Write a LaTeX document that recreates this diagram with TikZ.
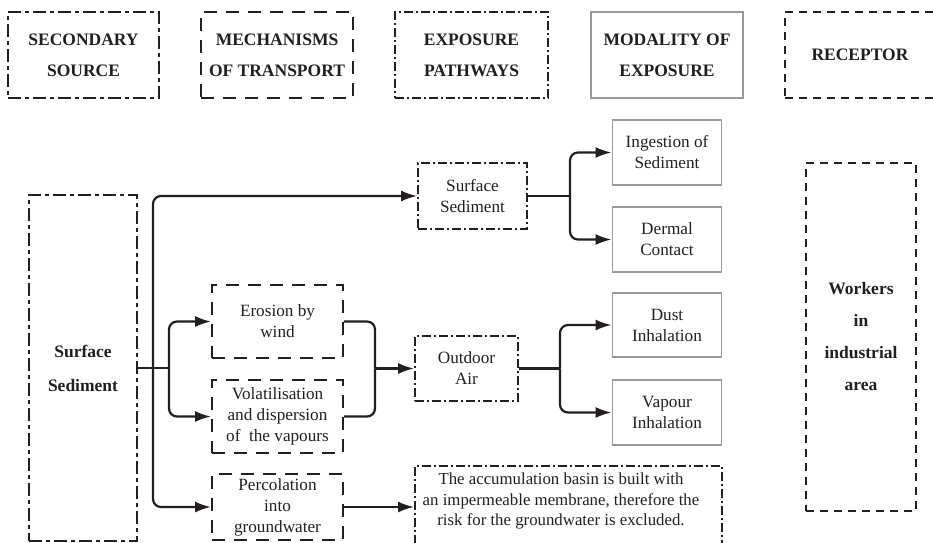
\documentclass[tikz,border=0pt]{standalone}
\usepackage{fontspec}
\setmainfont{Liberation Serif}
\usetikzlibrary{arrows.meta}
\definecolor{ink}{HTML}{231F20}
\definecolor{boxgray}{HTML}{9A9A9A}
\begin{document}
\begin{tikzpicture}[x=1pt,y=-1pt,
  every node/.style={text=ink, align=center, inner sep=0pt},
  txt/.style={font=\fontsize{17.2}{21}\selectfont},
  btxt/.style={font=\fontsize{17.5}{31}\selectfont\bfseries},
  srcbox/.style={draw=ink, line width=1.9pt, dash pattern=on 13pt off 4pt on 4pt off 4pt},
  trbox/.style={draw=ink, line width=1.9pt, dash pattern=on 13pt off 9pt},
  pwbox/.style={draw=ink, line width=1.9pt, dash pattern=on 9pt off 3pt on 2pt off 3pt},
  modbox/.style={draw=boxgray, line width=1.9pt},
  recbox/.style={draw=ink, line width=1.9pt, dash pattern=on 8pt off 6pt},
  conn/.style={draw=ink, line width=2.2pt, rounded corners=8pt},
  arr/.style={conn, -{Latex[length=16pt,width=11pt]}},
]
\useasboundingbox (0,0) rectangle (933,542);

% header boxes
\node[srcbox, btxt, minimum width=151pt, minimum height=86pt] (h1) at (83.5,55) {SECONDARY\\SOURCE};
\node[trbox, btxt, minimum width=152pt, minimum height=86pt] (h2) at (277,55) {MECHANISMS\\OF TRANSPORT};
\node[pwbox, btxt, minimum width=153pt, minimum height=86pt] (h3) at (471.5,55) {EXPOSURE\\PATHWAYS};
\node[modbox, btxt, minimum width=152pt, minimum height=86pt] (h4) at (667,55) {MODALITY OF\\EXPOSURE};
\node[recbox, btxt, minimum width=150pt, minimum height=86pt] (h5) at (860,55) {RECEPTOR};

% secondary source
\node[srcbox, btxt, font=\fontsize{17.5}{34}\selectfont\bfseries, minimum width=108pt, minimum height=346pt] (ss) at (83,368) {Surface\\Sediment};

% transport
\node[trbox, txt, minimum width=131pt, minimum height=73pt] (ero) at (277.5,321.5) {Erosion by\\wind};
\node[trbox, txt, minimum width=131pt, minimum height=73pt] (vol) at (277.5,416.5) {Volatilisation\\and dispersion\\of\ \ the vapours};
\node[trbox, txt, minimum width=131pt, minimum height=66pt] (perc) at (277.5,507) {Percolation\\into\\groundwater};

% pathways
\node[pwbox, txt, minimum width=109pt, minimum height=66pt] (ps) at (472.5,196) {Surface\\Sediment};
\node[pwbox, txt, minimum width=103pt, minimum height=65pt] (oa) at (466.5,368.5) {Outdoor\\Air};
\node[pwbox, minimum width=307pt, minimum height=82pt] (basin) at (568.5,507) {};
\node[txt, font=\fontsize{16.8}{20.5}\selectfont] (btext) at (561,501) {The accumulation basin is built with\\an impermeable membrane, therefore the\\risk for the groundwater is excluded.};

% modality
\node[modbox, txt, minimum width=109pt, minimum height=65pt] (ing) at (667,152.5) {Ingestion of\\Sediment};
\node[modbox, txt, minimum width=109pt, minimum height=65pt] (der) at (667,239.5) {Dermal\\Contact};
\node[modbox, txt, minimum width=109pt, minimum height=64pt] (dust) at (667,325) {Dust\\Inhalation};
\node[modbox, txt, minimum width=109pt, minimum height=65pt] (vap) at (667,412.5) {Vapour\\Inhalation};

% receptor
\node[recbox, btxt, font=\fontsize{17.5}{32}\selectfont\bfseries, minimum width=110pt, minimum height=348pt] (wk) at (861,337) {Workers\\in\\industrial\\area};

% junctions
\coordinate (j1) at (153,368);
\coordinate (j2) at (169,368);
\coordinate (j3) at (375,368.5);
\coordinate (j4) at (570,196);
\coordinate (j5) at (560,368.5);

% connectors
\draw[conn] (ss.east) -- (j2);
\draw[arr] (j1) |- (ps.west);
\draw[arr] (j1) |- (perc.west);
\draw[arr] (j2) |- (ero.west);
\draw[arr] (j2) |- (vol.west);
\draw[conn] (ero.east) -| (j3);
\draw[conn] (vol.east) -| (j3);
\draw[arr] (j3) -- (oa.west);
\draw[arr] (perc.east) -- (basin.west |- perc.east);
\draw[conn] (ps.east) -- (j4);
\draw[arr] (j4) |- (ing.west);
\draw[arr] (j4) |- (der.west);
\draw[conn] (oa.east) -- (j5);
\draw[arr] (j5) |- (dust.west);
\draw[arr] (j5) |- (vap.west);
\end{tikzpicture}
\end{document}
